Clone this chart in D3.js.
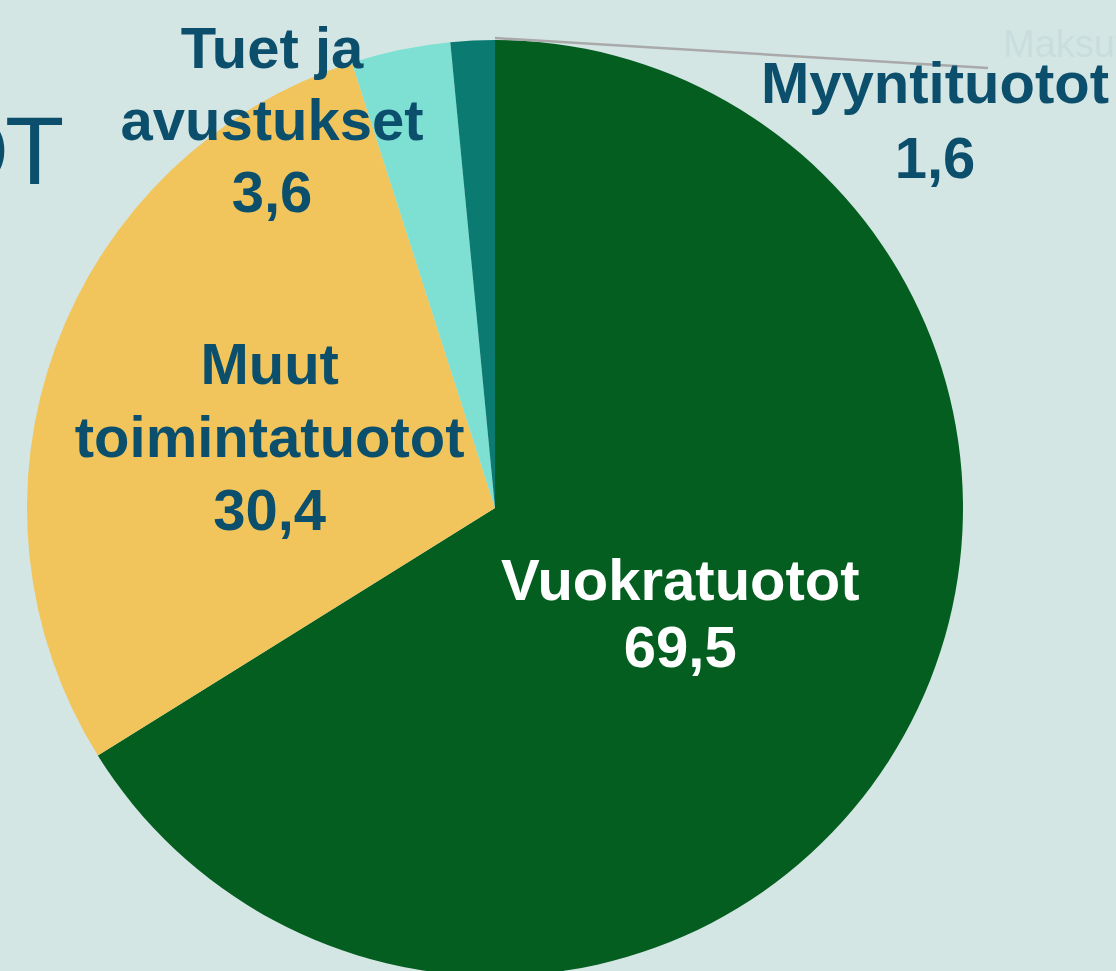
<!DOCTYPE html>
<html lang="fi">
<head>
<meta charset="utf-8">
<script src="https://cdn.jsdelivr.net/npm/d3@7"></script>
<style>
  html, body { margin: 0; padding: 0; background: #d4e6e4; overflow: hidden; }
  svg { display: block; }
  text { font-family: "Liberation Sans", Arial, sans-serif; }
</style>
</head>
<body>
<svg id="kuvio"></svg>
<script>
// tuotot (milj. €)
const kategoriat = ['Vuokratuotot', 'Muut toimintatuotot', 'Tuet ja avustukset', 'Myyntituotot']
const arvot = [69.5, 30.4, 3.6, 1.6]
const rivit = [['Vuokratuotot'], ['Muut', 'toimintatuotot'], ['Tuet ja', 'avustukset'], ['Myyntituotot']]
const varit = ['#035e20', '#f1c55c', '#7ee0d3', '#0b7b72']

onload = () => {
  let leveys = 1116, korkeus = 971
  let svg = d3.select('#kuvio').attr('width', leveys).attr('height', korkeus)

  let keski = {x: 495, y: 508}
  let sade = 468

  // otsikon loppu näkyy vasemmalla
  let otsikko = svg.append('text')
    .attr('x', 9).attr('y', 184)
    .attr('fill', '#0b4f6c')
    .style('font-size', '97px')
  otsikko.append('tspan').attr('text-anchor', 'end').text('TUOTO')
  otsikko.append('tspan').attr('x', 5).text('T')

  // haalea teksti oikeassa yläkulmassa
  svg.append('text')
    .attr('x', 1003).attr('y', 57)
    .attr('fill', '#0b4f6c').attr('opacity', 0.05)
    .style('font-size', '38px')
    .text('Maksut')

  let dados = kategoriat.map((k, i) => ({chave: k, valor: arvot[i], rivit: rivit[i], vari: varit[i]}))

  let piirakka = d3.pie().value(d => d.valor).sort(null)
  let kaari = d3.arc().innerRadius(0).outerRadius(sade)
  let osat = piirakka(dados)

  let g = svg.append('g').attr('transform', 'translate(' + keski.x + ',' + keski.y + ')')

  g.selectAll('.sektori').data(osat).enter()
    .append('path').classed('sektori', true)
    .attr('d', kaari)
    .attr('fill', d => d.data.vari)

  // viittausviiva pienimmälle sektorille
  let pieni = osat[3]
  let alku = [Math.sin(pieni.endAngle) * sade, -Math.cos(pieni.endAngle) * sade - 2]
  g.append('line')
    .attr('x1', alku[0]).attr('y1', alku[1])
    .attr('x2', 493).attr('y2', -440)
    .attr('stroke', '#a9a9a9').attr('stroke-width', 2.5)

  // nimikkeiden sijoittelu: sisällä kerroin säteestä, ulkona siirtymä keskipisteestä
  let sijoittelu = [
    {sisalla: 0.46, riviVali: 67, vari: '#ffffff', dx: -3},
    {sisalla: 0.49, riviVali: 73, vari: '#0b4f6c', dx: -10, dy: 7},
    {ulkona: [-223, -389], riviVali: 72, vari: '#0b4f6c'},
    {ulkona: [440, -388], riviVali: 75, vari: '#0b4f6c'}
  ]

  let fonttiKoko = 58
  osat.forEach((d, i) => {
    let s = sijoittelu[i]
    let p
    if (s.sisalla) {
      let kulma = (d.startAngle + d.endAngle) / 2
      p = [Math.sin(kulma) * sade * s.sisalla + (s.dx || 0), -Math.cos(kulma) * sade * s.sisalla + (s.dy || 0)]
    } else {
      p = s.ulkona
    }
    let tekstit = d.data.rivit.concat([d3.format('.1f')(d.data.valor).replace('.', ',')])
    let n = tekstit.length
    let ensimmainen = p[1] - (n - 1) * s.riviVali / 2 + fonttiKoko * 0.36
    let t = g.append('text')
      .attr('text-anchor', 'middle')
      .attr('fill', s.vari)
      .style('font-size', fonttiKoko + 'px')
      .style('font-weight', 'bold')
    tekstit.forEach((r, j) => {
      t.append('tspan').attr('x', p[0]).attr('y', ensimmainen + j * s.riviVali).text(r)
    })
  })
}
</script>
</body>
</html>
